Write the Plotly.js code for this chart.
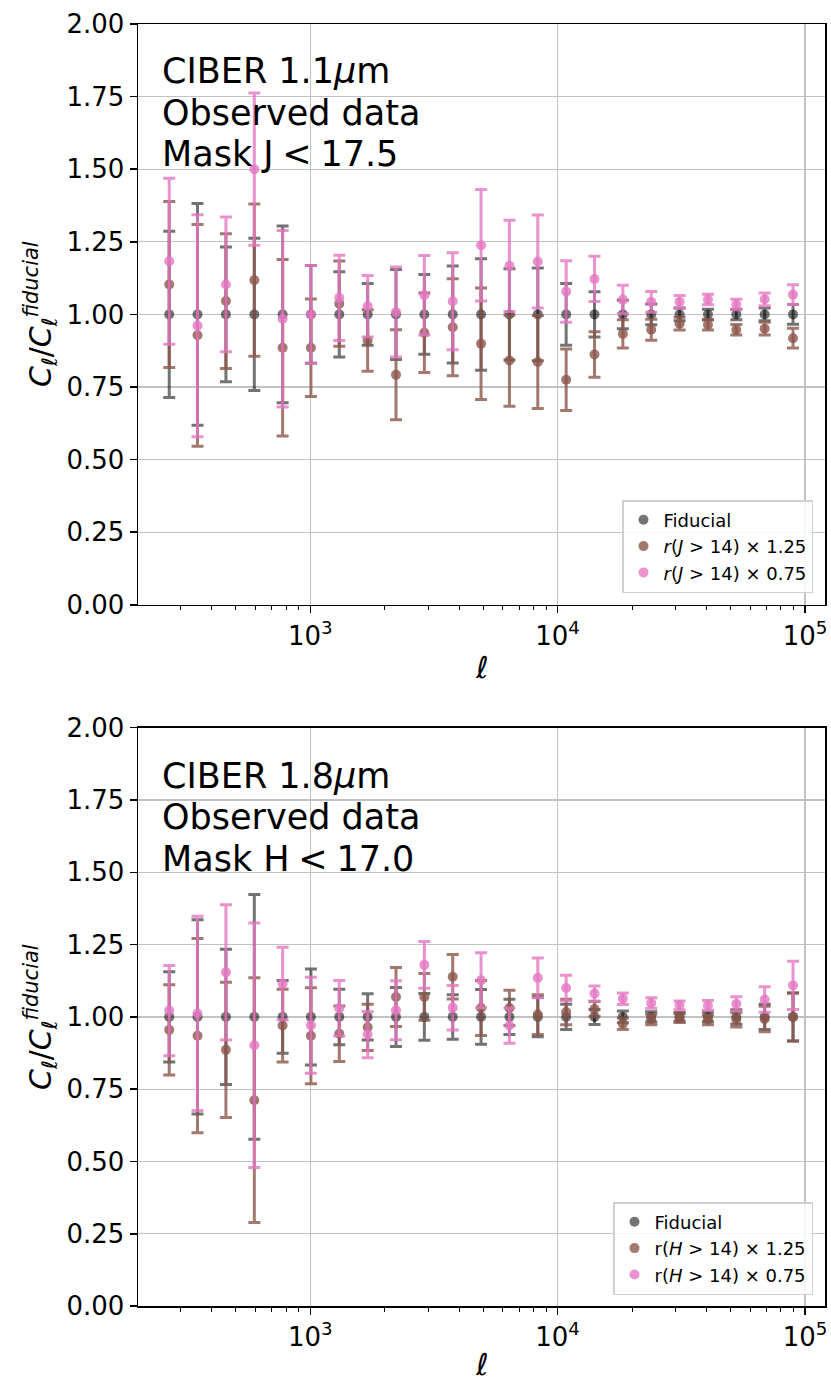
<!DOCTYPE html>
<html>
<head>
<meta charset="utf-8">
<script src="https://cdn.plot.ly/plotly-3.0.1.min.js"></script>
<style>
  html, body { margin: 0; padding: 0; background: #ffffff; }
  #chart { width: 831px; height: 1384px; }
</style>
</head>
<body>
<div id="chart"></div>
<script>
// ---- data ----
const ellBins = [269, 350, 456, 594, 773, 1006, 1310, 1706, 2221, 2892, 3766, 4903,
                 6385, 8314, 10826, 14097, 18356, 23902, 31124, 40528, 52773, 68718, 89480];

// Panel 1: CIBER 1.1 um
const fidTop   = [1,1,1,1,1,1,1,1,1,1,1,1,1,1,1,1,1,1,1,1,1,1,1];
const hiTop    = [1.103, 0.928, 1.046, 1.118, 0.885, 0.885, 1.037, 0.910, 0.792, 0.937, 0.956, 0.899,
                  0.841, 0.836, 0.775, 0.862, 0.933, 0.947, 0.968, 0.964, 0.947, 0.951, 0.918];
const loTop    = [1.183, 0.961, 1.103, 1.500, 0.985, 1.000, 1.057, 1.028, 1.008, 1.066, 1.045, 1.238,
                  1.167, 1.182, 1.079, 1.122, 1.051, 1.043, 1.043, 1.051, 1.034, 1.052, 1.068];
const errTop   = [0.286, 0.382, 0.232, 0.262, 0.304, 0.168, 0.147, 0.106, 0.155, 0.137, 0.167, 0.192,
                  0.157, 0.160, 0.106, 0.078, 0.049, 0.036, 0.022, 0.018, 0.018, 0.022, 0.034];

// Panel 2: CIBER 1.8 um
const fidBot   = [1,1,1,1,1,1,1,1,1,1,1,1,1,1,1,1,1,1,1,1,1,1,1];
const hiBot    = [0.955, 0.935, 0.886, 0.712, 0.970, 0.935, 0.942, 0.964, 1.069, 1.069, 1.139, 1.031,
                  1.031, 1.008, 1.017, 1.027, 0.976, 0.991, 0.996, 0.990, 0.990, 0.993, 1.000];
const loBot    = [1.022, 1.012, 1.154, 0.902, 1.115, 0.971, 1.030, 0.939, 1.023, 1.180, 1.032, 1.127,
                  0.970, 1.135, 1.100, 1.081, 1.063, 1.048, 1.040, 1.040, 1.045, 1.060, 1.109];
const errBot   = [0.156, 0.336, 0.234, 0.423, 0.126, 0.166, 0.096, 0.080, 0.102, 0.081, 0.077, 0.095,
                  0.061, 0.069, 0.044, 0.026, 0.020, 0.018, 0.015, 0.017, 0.025, 0.044, 0.083];

const namesTop = ['Fiducial', '<i>r</i>(<i>J</i> > 14) × 1.25', '<i>r</i>(<i>J</i> > 14) × 0.75'];
const namesBot = ['Fiducial', 'r(<i>H</i> > 14) × 1.25', 'r(<i>H</i> > 14) × 0.75'];
const yTickVals = [0, 0.25, 0.5, 0.75, 1.0, 1.25, 1.5, 1.75, 2.0];
const yTickText = ['0.00', '0.25', '0.50', '0.75', '1.00', '1.25', '1.50', '1.75', '2.00'];
const xTickVals = [1000, 10000, 100000];
const xTickText = ['10<sup>3</sup>', '10<sup>4</sup>', '10<sup>5</sup>'];
const xMinorVals = [200,300,400,500,600,700,800,900,2000,3000,4000,5000,6000,7000,8000,9000,
                    20000,30000,40000,50000,60000,70000,80000,90000];

// ---- styling ----
const FONT = 'DejaVu Sans, Liberation Sans, sans-serif';
const colGrey  = 'rgba(0,0,0,0.55)';
const colBrown = 'rgba(140,86,75,0.8)';
const colPink  = 'rgba(227,119,194,0.8)';
const W = 831, H = 1384;

function mk(y, err, name, col, xa, ya, leg) {
  return {
    type: 'scatter', mode: 'markers', x: ellBins, y: y, name: name,
    xaxis: xa, yaxis: ya, legend: leg,
    marker: {color: col, size: 10, line: {width: 0}},
    error_y: {type: 'data', array: err, visible: true, color: col, thickness: 3, width: 6}
  };
}

const traces = [
  mk(fidTop, errTop, namesTop[0], colGrey,  'x',  'y',  'legend'),
  mk(hiTop,  errTop, namesTop[1], colBrown, 'x',  'y',  'legend'),
  mk(loTop,  errTop, namesTop[2], colPink,  'x',  'y',  'legend'),
  mk(fidBot, errBot, namesBot[0], colGrey,  'x2', 'y2', 'legend2'),
  mk(hiBot,  errBot, namesBot[1], colBrown, 'x2', 'y2', 'legend2'),
  mk(loBot,  errBot, namesBot[2], colPink,  'x2', 'y2', 'legend2')
];

const xDom = [138 / W, 825 / W];
const xRange = [2.3035, 5.081];

function xAxis(anchor) {
  return {
    type: 'log', domain: xDom, range: xRange, anchor: anchor,
    tickvals: xTickVals, ticktext: xTickText,
    ticks: 'outside', ticklen: 7, tickwidth: 1.5, tickcolor: '#000',
    tickfont: {family: FONT, size: 26, color: '#000'},
    showline: true, linecolor: '#000', linewidth: 1.5, mirror: true,
    showgrid: true, gridcolor: '#c2c2c2', gridwidth: 1.3,
    zeroline: false,
    minor: {ticks: 'outside', ticklen: 4, tickwidth: 1, tickcolor: '#000', showgrid: false,
            tickvals: xMinorVals}
  };
}
function yAxis(dom, anchor) {
  return {
    domain: dom, range: [0, 2], anchor: anchor,
    tickvals: yTickVals, ticktext: yTickText,
    ticks: 'outside', ticklen: 7, tickwidth: 1.5, tickcolor: '#000',
    tickfont: {family: FONT, size: 26, color: '#000'},
    showline: true, linecolor: '#000', linewidth: 1.5, mirror: true,
    showgrid: true, gridcolor: '#c2c2c2', gridwidth: 1.3,
    zeroline: false
  };
}

const yDomTop = [1 - 604.8 / H, 1 - 24 / H];
const yDomBot = [1 - 1306.1 / H, 1 - 727.7 / H];

function txt(x, y, s, size, extra) {
  return Object.assign({
    xref: 'paper', yref: 'paper', x: x / W, y: 1 - y / H, text: s,
    showarrow: false, xanchor: 'left', yanchor: 'middle',
    font: {family: FONT, size: size, color: '#000'}
  }, extra || {});
}

const ylab = '<i>C</i><sub><i>ℓ</i></sub>/<i>C</i><sub><i>ℓ</i></sub><sup><i>fiducial</i></sup>';

const annotations = [
  txt(160, 71, 'CIBER 1.1<i>μ</i>m', 35),
  txt(160, 112.5, 'Observed data', 35),
  txt(160, 153.5, 'Mask J\u2005<\u200517.5', 35),
  txt(160, 776, 'CIBER 1.8<i>μ</i>m', 35),
  txt(160, 817.5, 'Observed data', 35),
  txt(160, 858.5, 'Mask H\u2005<\u200517.0', 35),
  txt(40, 314, ylab, 30, {xanchor: 'center', textangle: -90}),
  txt(40, 1017, ylab, 30, {xanchor: 'center', textangle: -90}),
  txt(481.5, 667, '<i>ℓ</i>', 30, {xanchor: 'center'}),
  txt(481.5, 1364, '<i>ℓ</i>', 30, {xanchor: 'center'})
];

const legendStyle = {
  font: {family: FONT, size: 18, color: '#000'},
  bgcolor: 'rgba(255,255,255,0.85)', bordercolor: '#d0d0d0', borderwidth: 1.5,
  xanchor: 'right', yanchor: 'bottom', xref: 'paper', yref: 'paper'
};

const layout = {
  width: W, height: H,
  margin: {l: 0, r: 0, t: 0, b: 0},
  paper_bgcolor: '#ffffff', plot_bgcolor: '#ffffff',
  showlegend: true,
  xaxis: xAxis('y'),
  yaxis: yAxis(yDomTop, 'x'),
  xaxis2: xAxis('y2'),
  yaxis2: yAxis(yDomBot, 'x2'),
  legend: Object.assign({}, legendStyle, {x: 813 / W, y: 1 - 593 / H}),
  legend2: Object.assign({}, legendStyle, {x: 813 / W, y: 1 - 1295 / H}),
  annotations: annotations
};

Plotly.newPlot('chart', traces, layout, {displayModeBar: false, staticPlot: true});
</script>
</body>
</html>
